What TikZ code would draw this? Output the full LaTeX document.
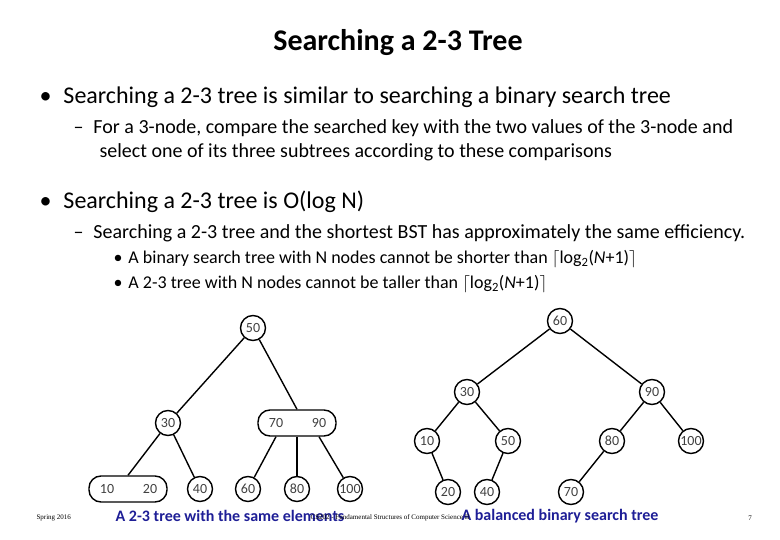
\documentclass[tikz,border=0pt]{standalone}
\usepackage{fontspec}
\setmainfont{Carlito}
\newfontfamily\footfont{Liberation Serif}
\begin{document}
\begin{tikzpicture}[x=1pt,y=-1pt,
  cn/.style={draw,circle,line width=1.4pt,minimum size=25pt,inner sep=0pt,font=\fontsize{14}{14}\selectfont,text=black!75},
  tn/.style={draw,line width=1.4pt,rounded corners=12pt,minimum width=78pt,minimum height=26pt,inner sep=0pt},
  lbl/.style={font=\fontsize{14}{14}\selectfont,text=black!75},
  ed/.style={line width=1.4pt},
  captxt/.style={font=\bfseries\fontsize{16}{16}\selectfont,text={rgb,255:red,30;green,30;blue,150}},
  ft/.style={font=\footfont\fontsize{7}{7}\selectfont}]
\useasboundingbox (0,0) rectangle (780,540);
\node[font=\fontsize{30}{30}\selectfont\bfseries] (title) at (398,43) {Searching a 2-3 Tree};
\node[anchor=west,font=\fontsize{24}{24}\selectfont] (b1) at (36,97) {\textbullet\hspace{12pt}Searching a 2-3 tree is similar to searching a binary search tree};
\node[anchor=north west,align=left,font=\fontsize{20}{24}\selectfont] (s1) at (70,116) {--\hspace{10pt}For a 3-node, compare the searched key with the two values of the 3-node and\\\hspace{26pt}select one of its three subtrees according to these comparisons};
\node[anchor=west,font=\fontsize{24}{24}\selectfont] (b2) at (36,202) {\textbullet\hspace{12pt}Searching a 2-3 tree is O(log N)};
\node[anchor=west,font=\fontsize{20}{20}\selectfont] (s2) at (70,233) {--\hspace{10pt}Searching a 2-3 tree and the shortest BST has approximately the same efficiency.};
\node[anchor=west,font=\fontsize{18}{18}\selectfont] (ss1) at (110,259) {\textbullet\hspace{6pt}A binary search tree with N nodes cannot be shorter than $\lceil$log\textsubscript{2}(\textit{N}+1)$\rceil$};
\node[anchor=west,font=\fontsize{18}{18}\selectfont] (ss2) at (110,284) {\textbullet\hspace{6pt}A 2-3 tree with N nodes cannot be taller than $\lceil$log\textsubscript{2}(\textit{N}+1)$\rceil$};
% left 2-3 tree
\node[cn] (a50) at (253,328) {50};
\node[cn] (a30) at (168,423) {30};
\node[tn] (a7090) at (297,423) {};
\node[lbl] (t70) at (276,423) {70};
\node[lbl] (t90) at (319,423) {90};
\node[tn] (a1020) at (128,489) {};
\node[lbl] (t10) at (107,489) {10};
\node[lbl] (t20) at (150,489) {20};
\node[cn] (a40) at (200,489) {40};
\node[cn] (a60) at (248,489) {60};
\node[cn] (a80) at (297,489) {80};
\node[cn] (a100) at (350,489) {100};
\draw[ed] (a50) -- (a30);
\draw[ed] (a50) -- (a7090.north);
\draw[ed] (a30) -- (a1020.north);
\draw[ed] (a30) -- (a40);
\draw[ed] (a7090.south -| t70) -- (a60);
\draw[ed] (a7090.south) -- (a80);
\draw[ed] (a7090.south -| t90) -- (a100);
% right BST
\node[cn] (b60) at (560,321) {60};
\node[cn] (b30) at (467,392) {30};
\node[cn] (b90) at (652,392) {90};
\node[cn] (b10) at (427,441) {10};
\node[cn] (b50) at (508,441) {50};
\node[cn] (b80) at (612,441) {80};
\node[cn] (b100) at (691,441) {100};
\node[cn] (b20) at (448,492) {20};
\node[cn] (b40) at (487,492) {40};
\node[cn] (b70) at (571,492) {70};
\draw[ed] (b60)--(b30); \draw[ed] (b60)--(b90);
\draw[ed] (b30)--(b10); \draw[ed] (b30)--(b50);
\draw[ed] (b90)--(b80); \draw[ed] (b90)--(b100);
\draw[ed] (b10)--(b20); \draw[ed] (b50)--(b40); \draw[ed] (b80)--(b70);
% captions & footer
\node[captxt] (c1) at (230,516) {A 2-3 tree with the same elements};
\node[captxt] (c2) at (560,516) {A balanced binary search tree};
\node[ft,anchor=west] (f1) at (33,518) {Spring 2016};
\node[ft] (f2) at (390,518) {CS202 - Fundamental Structures of Computer Science II};
\node[ft] (f3) at (750,518) {7};
\end{tikzpicture}
\end{document}
